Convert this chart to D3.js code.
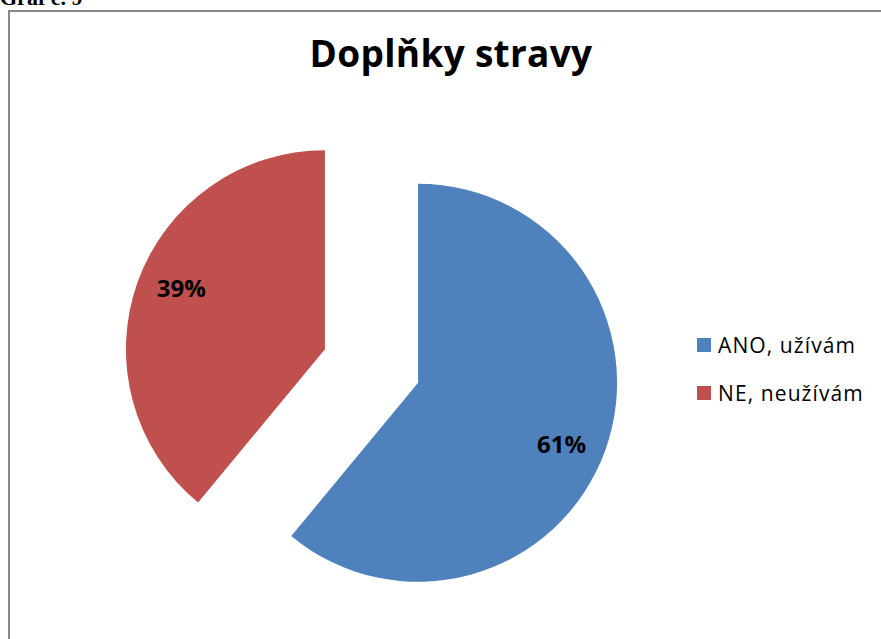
<!DOCTYPE html>
<html><head><meta charset="utf-8">
<script src="https://cdn.jsdelivr.net/npm/d3@7"></script>
<style>body{margin:0;background:#fff;}svg{display:block;}</style>
</head><body>
<svg id="c" width="881" height="639"></svg>
<script>
const categories = ["ANO, užívám", "NE, neužívám"];
const values = [61, 39];
const labels = ["61%", "39%"];
const colors = ["#4F81BD", "#C0504D"];
const title = "Doplňky stravy";
const caption = "Graf č. 9";

const svg = d3.select("#c");
const font = "'Open Sans', 'DejaVu Sans', sans-serif";

svg.append("text").attr("x", 0).attr("y", 5)
  .attr("font-family", "'Liberation Serif', serif").attr("font-weight", "bold")
  .attr("font-size", 22).text(caption);

svg.append("rect").attr("x", 9).attr("y", 11).attr("width", 900).attr("height", 700)
  .attr("fill", "none").attr("stroke", "#898989").attr("stroke-width", 2);

svg.append("text").attr("x", 451).attr("y", 67).attr("text-anchor", "middle")
  .attr("font-family", font).attr("font-weight", "bold").attr("font-size", 37)
  .attr("letter-spacing", 0.3)
  .text(title);

const cx = 371.5, cy = 366, r = 199, explode = 49.5;
const pie = d3.pie().sort(null).value(d => d)(values);
const arc = d3.arc().innerRadius(0).outerRadius(r);
const g = svg.append("g").attr("transform", `translate(${cx},${cy})`);
pie.forEach((p, i) => {
  const mid = (p.startAngle + p.endAngle) / 2;
  const dx = Math.sin(mid) * explode, dy = -Math.cos(mid) * explode;
  const sg = g.append("g").attr("transform", `translate(${dx},${dy})`);
  sg.append("path").attr("d", arc(p)).attr("fill", colors[i]);
  const lr = 156, la = mid + 0.056;
  sg.append("text")
    .attr("x", Math.sin(la) * lr).attr("y", -Math.cos(la) * lr + 9)
    .attr("text-anchor", "middle").attr("font-family", font)
    .attr("font-weight", "bold").attr("font-size", 24).attr("fill", "#000")
    .text(labels[i]);
});

const lg = svg.append("g");
categories.forEach((c, i) => {
  const y = 338 + i * 48;
  lg.append("rect").attr("x", 697).attr("y", y).attr("width", 14).attr("height", 14).attr("fill", colors[i]);
  lg.append("text").attr("x", 718).attr("y", y + 15).attr("font-family", font)
    .attr("font-size", 21).attr("letter-spacing", 1.1).attr("fill", "#000").text(c);
});
</script>
</body></html>
